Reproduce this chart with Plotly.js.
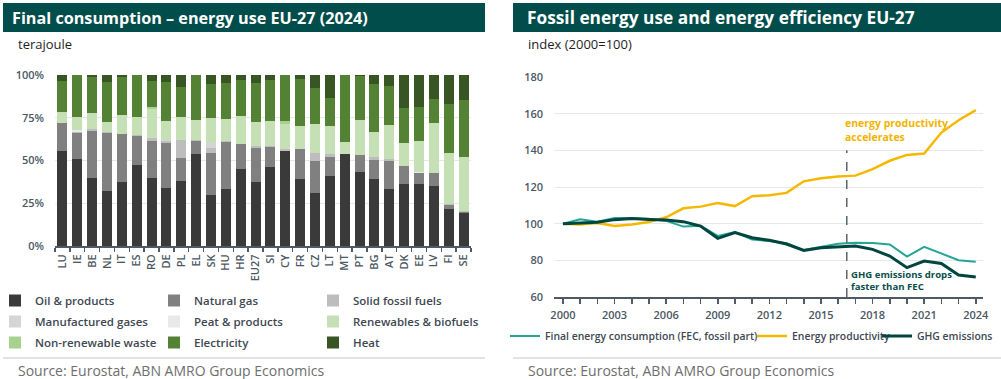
<!DOCTYPE html>
<html><head><meta charset="utf-8">
<script src="https://cdn.plot.ly/plotly-3.0.1.min.js"></script>
<style>
body{margin:0;background:#fff;}
#wrap{position:relative;width:1001px;height:379px;overflow:hidden;}
#left{position:absolute;left:-12px;top:0;width:512px;height:379px;}
#right{position:absolute;left:500px;top:0;width:501px;height:379px;}
</style>
</head><body><div id="wrap"><div id="left"></div><div id="right"></div></div>
<script>
// ---------- Left chart data (share of final energy consumption, %) ----------
const countries = ['LU','IE','BE','NL','IT','ES','RO','DE','PL','EL','SK','HU','HR','EU27','SI','CY','FR','CZ','LT','MT','PT','BG','AT','DK','EE','LV','FI','SE'];
const oilProducts   = [55.7,50.9,39.6,32.4,37.6,47.6,40.0,33.9,38.2,54.0,29.8,33.1,44.8,37.2,46.0,55.7,39.0,31.2,40.9,53.8,43.5,39.2,33.3,36.3,36.6,35.3,21.6,19.1];
const naturalGas    = [16.0,15.4,27.7,33.9,27.9,16.9,21.6,26.5,13.5,7.6,24.8,27.9,14.8,19.9,11.7,0.0,17.7,18.7,11.3,0.0,9.7,11.1,16.6,10.5,6.3,7.2,2.4,1.0];
const solidFossil   = [0.4,0.3,0.9,0.2,0.2,0.2,1.4,1.0,10.3,0.3,2.5,0.6,0.3,1.4,0.5,1.2,0.3,4.7,1.6,0.0,0.2,1.9,1.0,0.2,0.1,0.3,0.4,0.6];
const manufGases    = [0,0,0,0,0,0,0,0.6,0,0,3.9,0,0,0,0,0,0,0,0,0,0,0,0,0,0,0,0,0];
const peatProducts  = [0,1.2,0,0,0,0,0,0,0,0,0,0,0,0,0,0,0,0,0,0,0,0,0,0,0.3,0,0.3,0];
const renewables    = [6.5,7.4,9.4,6.2,10.9,10.5,17.0,11.3,13.6,11.8,14.0,12.5,16.3,13.8,15.1,14.4,13.4,16.6,16.4,7.2,20.3,14.7,19.9,13.4,18.0,28.9,29.5,31.2];
const nonRenewWaste = [0,0,0,0,0,0,1.5,0,0,0,0,0,0,0,0,2.0,0,0,0,0,0,0,0,0,0,0,0,0];
const electricity   = [17.9,24.8,21.4,23.4,22.4,24.8,15.0,22.4,17.2,26.3,19.7,21.0,20.9,23.2,23.8,26.7,27.3,21.4,16.5,39.0,25.9,27.8,22.8,20.1,20.5,14.3,28.8,33.5];
const heat          = [3.5,0,1.0,3.9,1.0,0,3.5,4.3,7.2,0,5.3,4.9,2.9,4.5,2.9,0,2.3,7.4,13.3,0,0.4,5.3,6.4,19.5,18.5,14.0,17.0,14.6];
const seriesNames   = ['Oil & products','Natural gas','Solid fossil fuels','Manufactured gases','Peat & products','Renewables & biofuels','Non-renewable waste','Electricity','Heat'];
const pctTicks      = [0,25,50,75,100];

// ---------- Right chart data (index 2000=100) ----------
const years = [2000,2001,2002,2003,2004,2005,2006,2007,2008,2009,2010,2011,2012,2013,2014,2015,2016,2017,2018,2019,2020,2021,2022,2023,2024];
const fecFossil = [100,102.4,101.1,103.1,102.9,102.7,101.5,98.4,98.9,93.3,95.4,91.4,90.5,89.3,85.6,87.2,89.1,89.6,89.4,88.7,82.0,87.4,83.6,80.1,79.2];
const energyProductivity = [100,99.5,100.4,98.7,99.5,100.9,103.5,108.4,109.3,111.3,109.6,115.0,115.5,116.8,123.1,124.8,125.7,126.2,129.7,134.3,137.5,138.3,149.7,156.4,161.9];
const ghgEmissions = [100,100.3,100.8,102.2,102.8,102.3,102.0,101.1,98.7,92.0,95.1,92.3,90.9,88.9,85.4,86.9,87.2,87.8,86.0,82.3,76.0,79.6,78.3,72.0,70.9];
const lineNames = ['Final energy consumption (FEC, fossil part)','Energy productivity','GHG emissions'];

// ---------- Styling ----------
const FONT = '"Open Sans", "DejaVu Sans", sans-serif';
const TICKC = '#4b5863';
const AXC = '#4e5b66';
const GRID = '#e6e9ec';
const HEAD = '#004d4b';
const SRC = '#6e6e6e';
const barColors = ['#3a3a3a','#808080','#bdbdbd','#d5d5d5','#e9e9e9','#c5e0b4','#a9d18e','#548235','#375623'];
const lineColors = ['#25a593','#f4b800','#00463f'];

// ---------- Left chart (div shifted 12px left; OFF converts page px to div px) ----------
const OFF = 12;
const barSeries = [oilProducts,naturalGas,solidFossil,manufGases,peatProducts,renewables,nonRenewWaste,electricity,heat];
const legendOf = ['legend','legend2','legend3','legend','legend2','legend3','legend','legend2','legend3'];
const tracesL = barSeries.map((vals,i)=>({
  type:'bar', x:countries, y:vals, name:seriesNames[i],
  marker:{color:barColors[i], line:{width:0}},
  legend:legendOf[i], legendgroup:'g'+i, hoverinfo:'skip'
}));

const pl = 55+OFF, pw = 416, pt = 75, ph = 171, WL = 512;
const lpx = px => (px+OFF-pl)/pw;   // px in page coordinates
const lpy = py => 1-(py-pt)/ph;
const legBase = {orientation:'v', yanchor:'top', xanchor:'left', y:lpy(286), bgcolor:'rgba(0,0,0,0)',
  font:{family:FONT, size:11.5, color:'#3e4852', weight:600}, tracegroupgap:2, traceorder:'grouped'};

const layoutL = {
  width:WL, height:379, showlegend:true,
  margin:{l:pl, r:WL-pl-pw, t:pt, b:379-pt-ph, autoexpand:false},
  paper_bgcolor:'#ffffff', plot_bgcolor:'#ffffff',
  font:{family:FONT, color:TICKC},
  barmode:'stack', barnorm:'percent', bargap:0.32,
  title:{text:'Final consumption – energy use EU-27 (2024)', xref:'container', yref:'container',
    x:(12+OFF)/WL, xanchor:'left', y:1-18/379, yanchor:'middle', font:{family:FONT, size:16.2, color:'#ffffff', weight:700}},
  xaxis:{type:'category', tickangle:-90, tickson:'boundaries', ticks:'outside', ticklen:4, tickwidth:1.5, tickcolor:AXC,
    showline:true, linecolor:AXC, linewidth:2, showgrid:false, zeroline:false,
    tickfont:{family:FONT, size:11, color:TICKC, weight:600}, ticklabelstandoff:2},
  yaxis:{range:[0,100], tickvals:pctTicks, ticktext:pctTicks.map(v=>v+'%'), gridcolor:GRID, gridwidth:1,
    zeroline:false, showline:false, ticks:'', tickfont:{family:FONT, size:11, color:TICKC, weight:600}, ticklabelstandoff:10},
  legend:Object.assign({}, legBase, {x:lpx(-5)}),
  legend2:Object.assign({}, legBase, {x:lpx(154)}),
  legend3:Object.assign({}, legBase, {x:lpx(313)}),
  shapes:[
    {type:'rect', xref:'paper', yref:'paper', x0:lpx(3), x1:lpx(485), y0:lpy(32), y1:lpy(3), fillcolor:HEAD, line:{width:0}, layer:'below'},
    {type:'line', xref:'paper', yref:'paper', x0:lpx(3), x1:lpx(485), y0:lpy(358), y1:lpy(358), line:{color:'#c8c8c8', width:1}}
  ],
  annotations:[
    {text:'terajoule', xref:'paper', yref:'paper', x:lpx(16), y:lpy(44), xanchor:'left', yanchor:'middle', showarrow:false,
      font:{family:FONT, size:13, color:'#1e1e1e'}},
    {text:'Source: Eurostat, ABN AMRO Group Economics', xref:'paper', yref:'paper', x:lpx(16), y:lpy(370), xanchor:'left', yanchor:'middle', showarrow:false,
      font:{family:FONT, size:14, color:SRC}}
  ],
  hovermode:false
};
Plotly.newPlot('left', tracesL, layoutL, {staticPlot:true, displayModeBar:false});

// ---------- Right chart ----------
const RX = 500;
const rl = 54, rw = 429, rt = 77, rh = 220;
const rpx = px => (px-RX-rl)/rw;   // px in page coordinates
const rpy = py => 1-(py-rt)/rh;
const lineSeries = [fecFossil, energyProductivity, ghgEmissions];
const lineWidths = [2, 2.5, 3];
const tracesR = lineSeries.map((vals,i)=>({
  type:'scatter', mode:'lines', x:years, y:vals, name:lineNames[i],
  line:{color:lineColors[i], width:lineWidths[i]}, legend:['legend','legend2','legend3'][i], hoverinfo:'skip'
}));
const legR = {orientation:'v', yanchor:'middle', xanchor:'left', y:rpy(336), bgcolor:'rgba(0,0,0,0)',
  font:{family:FONT, size:10.4, color:'#3e4852', weight:600}};

const layoutR = {
  width:501, height:379, showlegend:true,
  margin:{l:rl, r:501-rl-rw, t:rt, b:379-rt-rh, autoexpand:false},
  paper_bgcolor:'#ffffff', plot_bgcolor:'#ffffff',
  font:{family:FONT, color:TICKC},
  title:{text:'Fossil energy use and energy efficiency EU-27', xref:'container', yref:'container',
    x:27/501, xanchor:'left', y:1-18/379, yanchor:'middle', font:{family:FONT, size:17.3, color:'#ffffff', weight:700}},
  xaxis:{range:[1999.48,2024.42], tick0:2000, dtick:3, ticks:'outside', ticklen:5, tickwidth:1.5, tickcolor:AXC,
    showline:true, linecolor:AXC, linewidth:2, showgrid:false, zeroline:false,
    minor:{dtick:1, tick0:2000, ticks:'outside', ticklen:5, tickwidth:1.5, tickcolor:AXC, showgrid:false},
    tickfont:{family:FONT, size:11, color:TICKC, weight:600}, ticklabelstandoff:2},
  yaxis:{range:[60,180], dtick:20, gridcolor:GRID, gridwidth:1, zeroline:false, showline:false, ticks:'',
    tickfont:{family:FONT, size:11, color:TICKC, weight:600}, ticklabelstandoff:10},
  legend:Object.assign({}, legR, {x:rpx(505)}),
  legend2:Object.assign({}, legR, {x:rpx(752)}),
  legend3:Object.assign({}, legR, {x:rpx(877)}),
  shapes:[
    {type:'rect', xref:'paper', yref:'paper', x0:rpx(513), x1:rpx(1001), y0:rpy(32), y1:rpy(3), fillcolor:HEAD, line:{width:0}, layer:'below'},
    {type:'line', xref:'paper', yref:'paper', x0:rpx(513), x1:rpx(1001), y0:rpy(358), y1:rpy(358), line:{color:'#c8c8c8', width:1}},
    {type:'line', xref:'x', yref:'y', x0:2016.5, x1:2016.5, y0:60, y1:140, line:{color:'#5b6570', width:1.5, dash:'dash'}}
  ],
  annotations:[
    {text:'index (2000=100)', xref:'paper', yref:'paper', x:rpx(526), y:rpy(44), xanchor:'left', yanchor:'middle', showarrow:false,
      font:{family:FONT, size:13, color:'#1e1e1e'}},
    {text:'Source: Eurostat, ABN AMRO Group Economics', xref:'paper', yref:'paper', x:rpx(526), y:rpy(370), xanchor:'left', yanchor:'middle', showarrow:false,
      font:{family:FONT, size:14, color:SRC}},
    {text:'energy productivity<br>accelerates', xref:'x', yref:'y', x:2016.3, y:151.3, xanchor:'left', yanchor:'middle', align:'left', showarrow:false,
      font:{family:FONT, size:10.5, color:'#f2b400', weight:700}},
    {text:'GHG emissions drops<br>faster than FEC', xref:'x', yref:'y', x:2016.65, y:69.1, xanchor:'left', yanchor:'middle', align:'left', showarrow:false,
      font:{family:FONT, size:9.6, color:'#0a4f4a', weight:700}}
  ],
  hovermode:false
};
Plotly.newPlot('right', tracesR, layoutR, {staticPlot:true, displayModeBar:false});
</script></body></html>
